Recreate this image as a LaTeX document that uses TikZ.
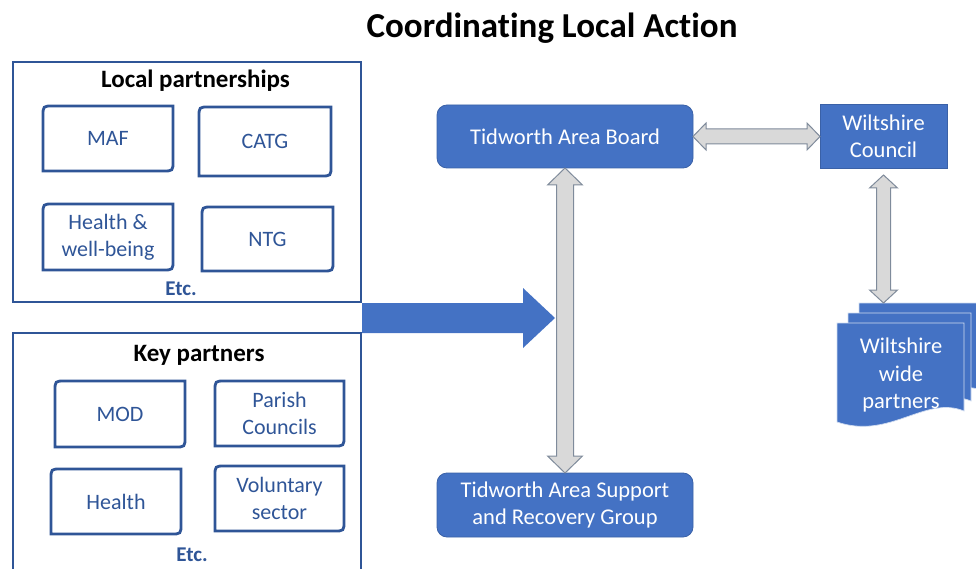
\documentclass[tikz,border=0pt]{standalone}
\usepackage{fontspec}
\setmainfont{Carlito}[Ligatures=NoCommon]
\usetikzlibrary{calc}
\definecolor{offblue}{HTML}{4472C4}
\definecolor{darkblue}{HTML}{2F5597}
\definecolor{arrowgray}{HTML}{D9D9D9}
\definecolor{arrowedge}{HTML}{7F8B9B}
\newcommand\pbox[6]{%
  \draw[innerline] (#2,#5) -- (#2,#3+10) .. controls (#2,#3) .. (#2+10,#3) -- (#4,#3) -- (#4,#5-10) .. controls (#4,#5) .. (#4-10,#5) -- cycle;
  \node[innertext] (#1) at ({(#2+#4)/2},{(#3+#5)/2}) {#6};}
\newcommand\vdarrow[5]{%
  \filldraw[grayarrow] let \p1=(#1), \p2=(#2) in
   (\x1,\y1) -- (\x1+#4,\y1-#5) -- (\x1+#3,\y1-#5) -- (\x1+#3,\y2+#5) -- (\x1+#4,\y2+#5) -- (\x1,\y2)
   -- (\x1-#4,\y2+#5) -- (\x1-#3,\y2+#5) -- (\x1-#3,\y1-#5) -- (\x1-#4,\y1-#5) -- cycle;}
\newcommand\hdarrow[5]{%
  \filldraw[grayarrow] let \p1=(#1), \p2=(#2) in
   (\x1,\y1) -- (\x1+#5,\y1+#4) -- (\x1+#5,\y1+#3) -- (\x2-#5,\y1+#3) -- (\x2-#5,\y1+#4) -- (\x2,\y1)
   -- (\x2-#5,\y1-#4) -- (\x2-#5,\y1-#3) -- (\x1+#5,\y1-#3) -- (\x1+#5,\y1-#4) -- cycle;}
\newcommand\docpage[5]{%
  \filldraw[docpage] (#1,#2) -- (#3,#2) -- (#3,#4) .. controls (#3-39,#4-16) and (#3-74,#4+29) .. (#1,#5) -- cycle;}
\begin{document}
\begin{tikzpicture}[x=1pt,y=-1pt,
  every node/.style={inner sep=0pt, outer sep=0pt},
  outerbox/.style={draw=darkblue, line width=2pt},
  innerline/.style={draw=darkblue, line width=2.8pt, line join=miter},
  innertext/.style={text=darkblue, font=\fontsize{22}{27}\selectfont, align=center},
  bluebox/.style={fill=offblue, draw=offblue!85!black, line width=0.8pt, rounded corners=10pt, text=white, font=\fontsize{22.5}{27}\selectfont, align=center},
  bluesq/.style={fill=offblue, draw=offblue!85!black, line width=0.8pt, text=white, font=\fontsize{22.5}{27}\selectfont, align=center},
  doctext/.style={text=white, font=\fontsize{22.5}{27.5}\selectfont, align=center},
  docpage/.style={fill=offblue, draw=white!75!offblue, line width=0.7pt},
  heading/.style={font=\bfseries\fontsize{25}{30}\selectfont},
  etc/.style={font=\bfseries\fontsize{21}{25}\selectfont, text=darkblue},
  grayarrow/.style={fill=arrowgray, draw=arrowedge, line width=1pt, line join=miter},
  ]
\useasboundingbox (0,0) rectangle (976,569);
\clip (0,0) rectangle (976,569);

% title
\node[font=\bfseries\fontsize{35}{42}\selectfont] (title) at (552,28) {Coordinating Local Action};

% local partnerships
\node[outerbox, minimum width=348pt, minimum height=240pt] (lp) at (187,182) {};
\node[heading] (lptitle) at (195.5,81) {Local partnerships};
\pbox{maf}{43}{106}{173}{171}{MAF}
\pbox{catg}{199}{107}{331}{176}{CATG}
\pbox{hwb}{43}{204}{173}{270}{Health \&\\well-being}
\pbox{ntg}{202}{207}{333}{271}{NTG}
\node[etc] (lpetc) at (181,289) {Etc.};

% key partners
\node[outerbox, minimum width=348pt, minimum height=280pt] (kp) at (187,473) {};
\node[heading] (kptitle) at (199,355) {Key partners};
\pbox{mod}{55}{381}{185}{447}{MOD}
\pbox{pc}{215}{381}{344}{446}{Parish\\Councils}
\pbox{hl}{51}{469}{181}{534}{Health}
\pbox{vs}{215}{466}{344}{531}{Voluntary\\sector}
\node[etc] (kpetc) at (192,555) {Etc.};

% blue boxes
\node[bluebox, minimum width=256pt, minimum height=63pt] (tab) at (565,136.5) {Tidworth Area Board};
\node[bluebox, minimum width=256pt, minimum height=64pt] (tsg) at (565,505) {Tidworth Area Support\\and Recovery Group};
\node[bluesq, minimum width=127pt, minimum height=64pt] (wc) at (883.5,136) {Wiltshire\\Council};

% multi-document
\docpage{859}{303}{984}{391}{402}
\docpage{848}{313}{971}{401}{412}
\docpage{837}{323}{964}{411}{422}
\node[doctext] (wwp) at (901,375) {Wiltshire\\wide\\partners};

% big blue arrow
\coordinate (bstart) at (362,318);
\coordinate (btip) at (555,318);
\fill[offblue] let \p1=(bstart), \p2=(btip) in
  (\x1,\y1+15pt) -- (\x2-32pt,\y1+15pt) -- (\x2-32pt,\y1+30pt) -- (\x2,\y1)
  -- (\x2-32pt,\y1-30pt) -- (\x2-32pt,\y1-15pt) -- (\x1,\y1-15pt) -- cycle;

% gray double arrows
\vdarrow{tab.south}{tsg.north}{8.5pt}{17.5pt}{17pt}
\hdarrow{tab.east}{wc.west}{7.5pt}{13.5pt}{13pt}
\coordinate (wcgap) at ($(wc.south)+(0,7)$);
\coordinate (doctop) at (883.5,303);
\vdarrow{wcgap}{doctop}{7pt}{14pt}{13pt}
\end{tikzpicture}
\end{document}
